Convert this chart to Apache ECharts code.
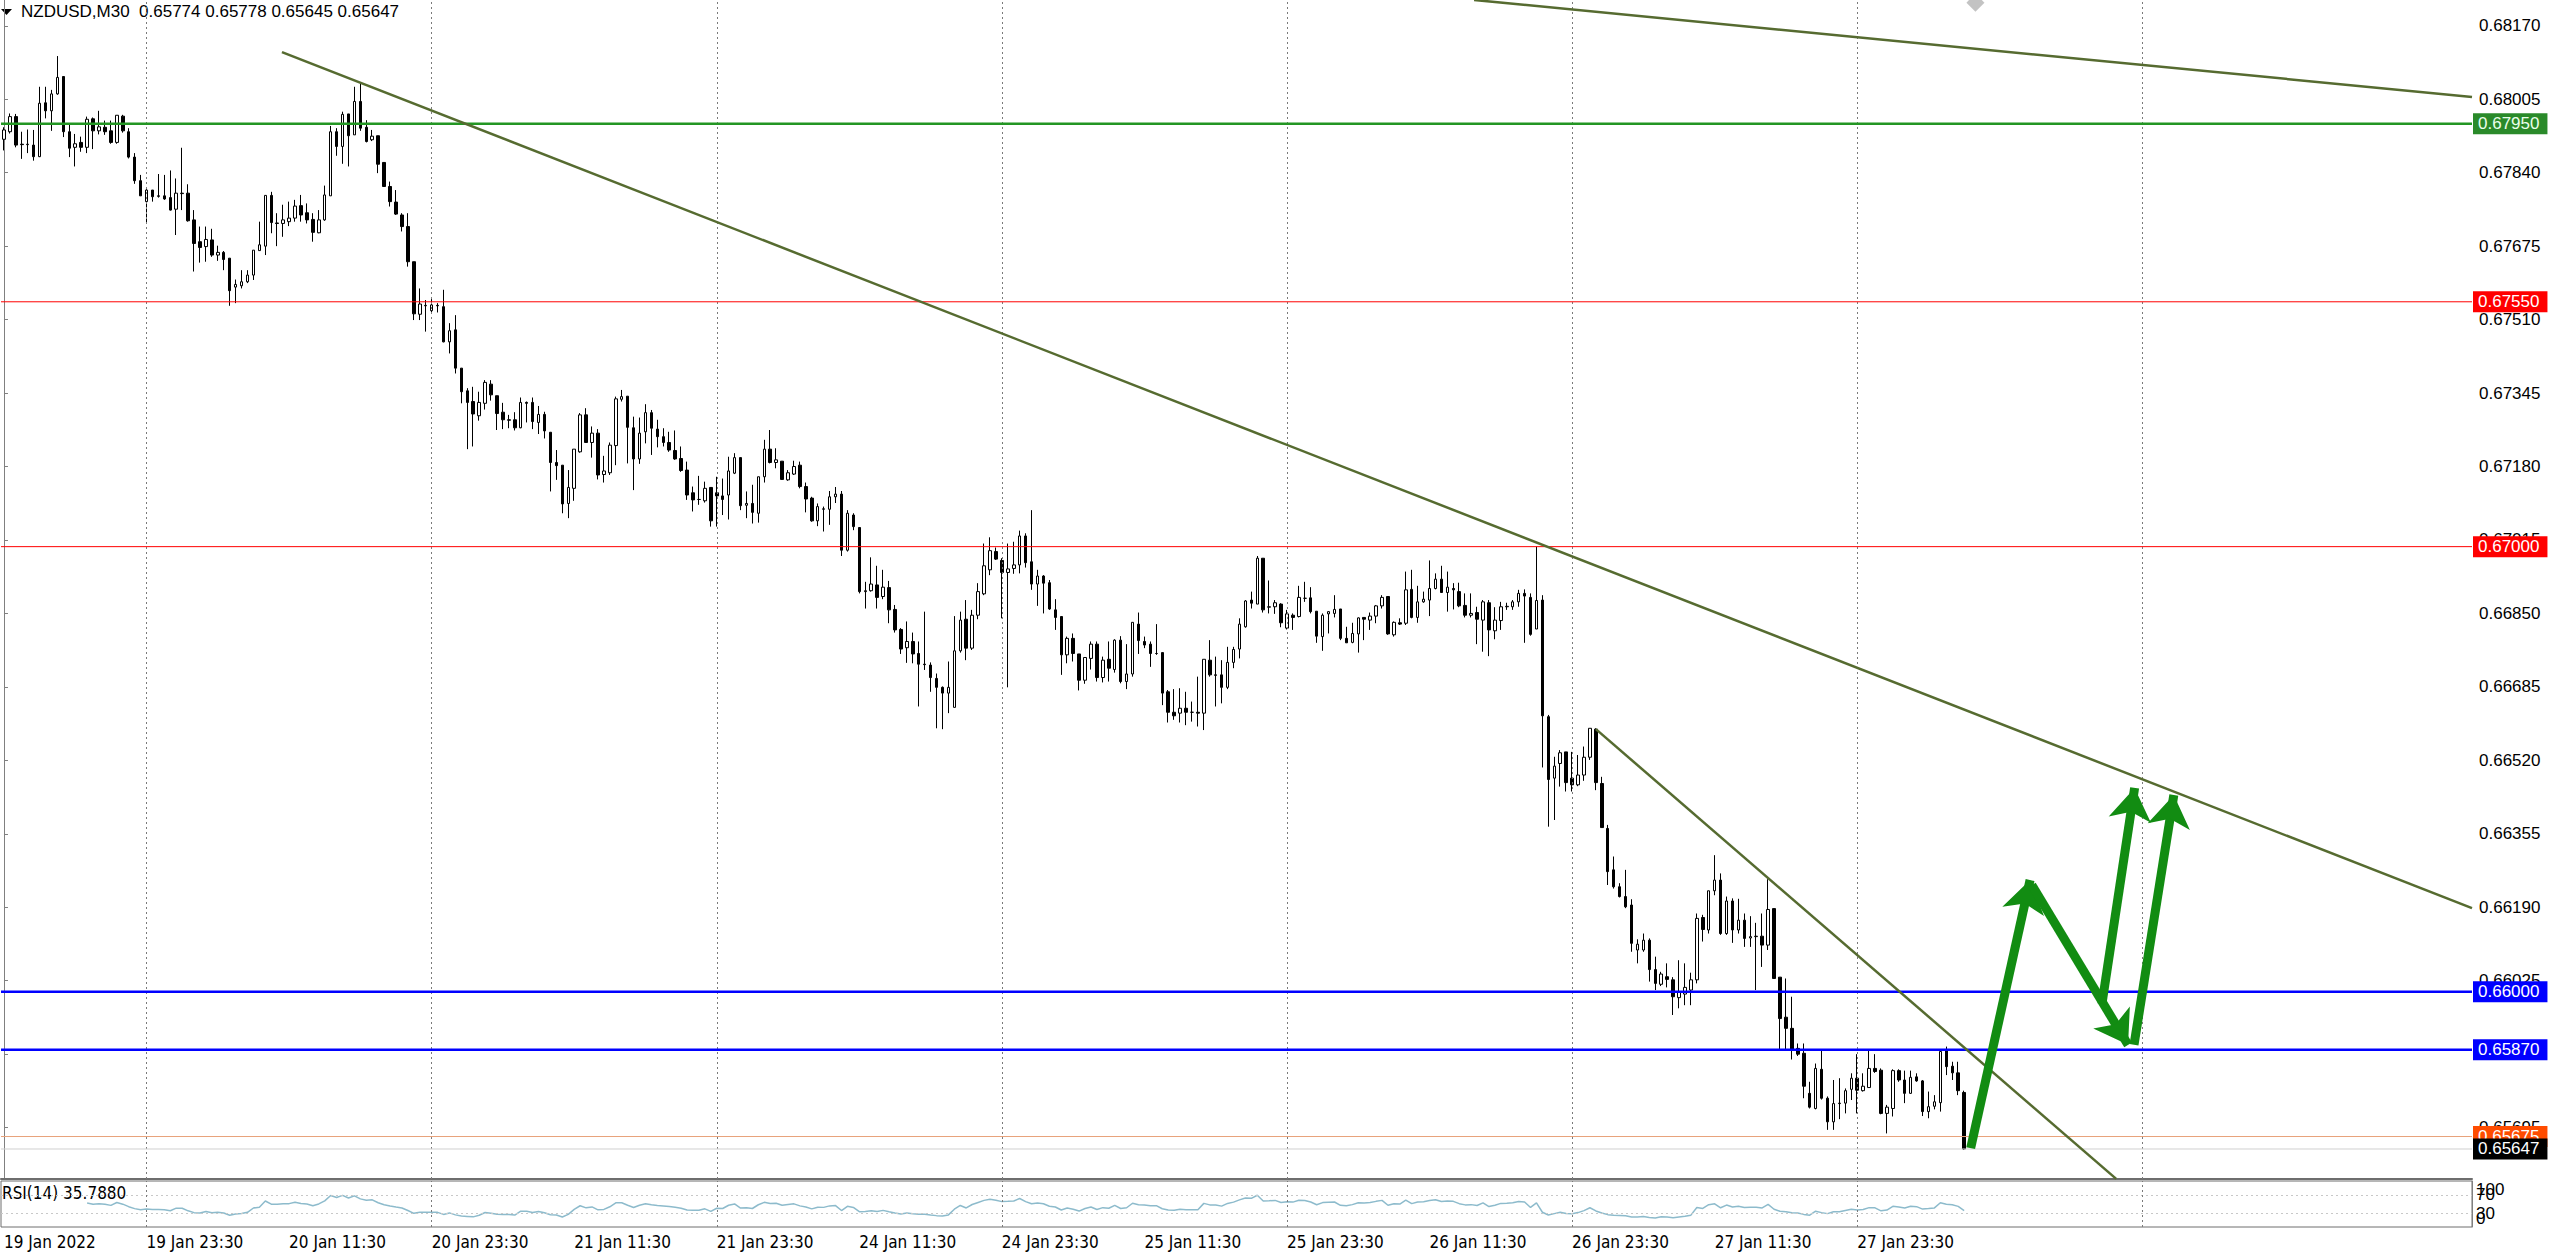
<!DOCTYPE html>
<html>
<head>
<meta charset="utf-8">
<script src="https://cdn.jsdelivr.net/npm/echarts@6/dist/echarts.min.js"></script>
<style>html,body{margin:0;padding:0;background:#fff;overflow:hidden}#chart{width:2560px;height:1252px}</style>
</head>
<body>
<div id="chart"></div>
<script>
// ---------------- DATA ----------------
const symbolName = 'NZDUSD';
const timeframe = 'M30';
const firstBarTime = Date.UTC(2022, 0, 19, 11, 30); // first visible bar
const totalSlots = 416; // visible bar slots incl. empty right margin

const opens = [
0.67915,0.67932,0.67966,0.67904,0.67903,0.67902,0.67876,0.67997,0.67979,0.68017,
0.68056,0.67932,0.67897,0.67908,0.67897,0.67961,0.67934,0.67942,0.67934,0.67908,
0.67967,0.67932,0.67875,0.67822,0.67775,0.67801,0.67788,0.67788,0.67784,0.67758,
0.67794,0.67794,0.67734,0.67685,0.67674,0.67689,0.67655,0.67661,0.67648,0.67583,
0.67586,0.67595,0.67610,0.67665,0.67675,0.67789,0.67727,0.67726,0.67730,0.67738,
0.67766,0.67750,0.67735,0.67705,0.67734,0.67788,0.67932,0.67899,0.67972,0.67925,
0.68000,0.67942,0.67914,0.67923,0.67863,0.67809,0.67774,0.67745,0.67719,0.67640,
0.67522,0.67541,0.67530,0.67542,0.67539,0.67460,0.67487,0.67401,0.67350,0.67326,
0.67294,0.67322,0.67365,0.67339,0.67302,0.67285,0.67285,0.67267,0.67324,0.67324,
0.67279,0.67297,0.67257,0.67189,0.67183,0.67097,0.67131,0.67213,0.67296,0.67234,
0.67255,0.67162,0.67166,0.67227,0.67331,0.67338,0.67267,0.67197,0.67258,0.67301,
0.67264,0.67247,0.67234,0.67216,0.67198,0.67172,0.67121,0.67106,0.67103,0.67133,
0.67121,0.67114,0.67116,0.67165,0.67200,0.67093,0.67097,0.67075,0.67157,0.67219,
0.67189,0.67192,0.67150,0.67163,0.67183,0.67135,0.67109,0.67058,0.67084,0.67084,
0.67112,0.67118,0.66992,0.67071,0.67043,0.66899,0.66901,0.66914,0.66888,0.66908,
0.66859,0.66814,0.66773,0.66787,0.66760,0.66736,0.66734,0.66704,0.66684,0.66671,
0.66639,0.66766,0.66837,0.66772,0.66846,0.66894,0.66948,0.66989,0.66969,0.66942,
0.66951,0.66959,0.67024,0.66966,0.66916,0.66934,0.66919,0.66858,0.66843,0.66757,
0.66794,0.66759,0.66700,0.66749,0.66781,0.66706,0.66747,0.66724,0.66790,0.66697,
0.66714,0.66826,0.66787,0.66781,0.66760,0.66762,0.66674,0.66628,0.66626,0.66637,
0.66628,0.66628,0.66626,0.66745,0.66712,0.66712,0.66684,0.66740,0.66770,0.66820,
0.66880,0.66871,0.66974,0.66864,0.66865,0.66871,0.66817,0.66846,0.66843,0.66884,
0.66885,0.66855,0.66798,0.66849,0.66850,0.66860,0.66794,0.66785,0.66804,0.66841,
0.66835,0.66844,0.66867,0.66888,0.66802,0.66829,0.66828,0.66904,0.66841,0.66876,
0.66880,0.66906,0.66927,0.66897,0.66906,0.66899,0.66868,0.66846,0.66852,0.66835,
0.66874,0.66811,0.66834,0.66865,0.66865,0.66876,0.66895,0.66886,0.66815,0.66880,
0.66618,0.66480,0.66513,0.66539,0.66480,0.66465,0.66487,0.66527,0.66590,0.66468,
0.66367,0.66274,0.66236,0.66214,0.66195,0.66094,0.66094,0.66116,0.66050,0.66017,
0.66034,0.66027,0.65987,0.65995,0.66004,0.66027,0.66167,0.66139,0.66227,0.66251,
0.66131,0.66204,0.66139,0.66161,0.66121,0.66124,0.66125,0.66105,0.66187,0.66033,
0.65943,0.65918,0.65873,0.65862,0.65772,0.65738,0.65826,0.65761,0.65708,0.65749,
0.65750,0.65781,0.65806,0.65778,0.65785,0.65828,0.65824,0.65727,0.65738,0.65823,
0.65802,0.65772,0.65809,0.65800,0.65731,0.65743,0.65751,0.65868,0.65833,0.65818,
0.65774];
const highs = [
0.67942,0.67973,0.67972,0.67932,0.67937,0.67936,0.68033,0.68033,0.68026,0.68102,
0.68056,0.67951,0.67927,0.67921,0.67966,0.67964,0.67979,0.67957,0.67957,0.67969,
0.67970,0.67940,0.67884,0.67835,0.67803,0.67801,0.67837,0.67835,0.67845,0.67827,
0.67896,0.67814,0.67756,0.67719,0.67719,0.67714,0.67676,0.67664,0.67648,0.67600,
0.67621,0.67621,0.67666,0.67730,0.67789,0.67797,0.67749,0.67768,0.67775,0.67779,
0.67790,0.67771,0.67749,0.67756,0.67811,0.67945,0.67940,0.67977,0.67972,0.68033,
0.68041,0.67958,0.67936,0.67923,0.67863,0.67820,0.67801,0.67749,0.67749,0.67640,
0.67580,0.67554,0.67556,0.67547,0.67577,0.67502,0.67520,0.67401,0.67356,0.67359,
0.67348,0.67374,0.67374,0.67339,0.67323,0.67296,0.67302,0.67335,0.67326,0.67335,
0.67316,0.67303,0.67257,0.67217,0.67183,0.67172,0.67219,0.67300,0.67311,0.67270,
0.67264,0.67204,0.67234,0.67337,0.67352,0.67338,0.67292,0.67290,0.67320,0.67307,
0.67285,0.67266,0.67258,0.67261,0.67225,0.67191,0.67135,0.67159,0.67146,0.67133,
0.67157,0.67153,0.67202,0.67210,0.67200,0.67124,0.67139,0.67157,0.67240,0.67262,
0.67221,0.67192,0.67172,0.67193,0.67191,0.67144,0.67112,0.67097,0.67090,0.67125,
0.67134,0.67125,0.67082,0.67075,0.67043,0.66921,0.66976,0.66957,0.66948,0.66923,
0.66869,0.66817,0.66832,0.66807,0.66787,0.66854,0.66740,0.66715,0.66686,0.66742,
0.66844,0.66854,0.66880,0.66858,0.66918,0.67007,0.67021,0.66998,0.66974,0.67007,
0.67011,0.67036,0.67030,0.67082,0.66948,0.66936,0.66925,0.66882,0.66843,0.66798,
0.66805,0.66759,0.66751,0.66787,0.66787,0.66753,0.66787,0.66792,0.66799,0.66781,
0.66830,0.66852,0.66798,0.66787,0.66826,0.66762,0.66678,0.66680,0.66682,0.66674,
0.66652,0.66708,0.66747,0.66790,0.66753,0.66745,0.66775,0.66775,0.66839,0.66880,
0.66899,0.66979,0.66974,0.66924,0.66880,0.66873,0.66858,0.66850,0.66912,0.66921,
0.66909,0.66855,0.66850,0.66855,0.66891,0.66860,0.66820,0.66829,0.66841,0.66841,
0.66852,0.66869,0.66891,0.66889,0.66832,0.66839,0.66944,0.66948,0.66912,0.66899,
0.66969,0.66940,0.66957,0.66944,0.66918,0.66919,0.66895,0.66895,0.66865,0.66880,
0.66880,0.66864,0.66876,0.66874,0.66880,0.66903,0.66904,0.66895,0.67000,0.66891,
0.66622,0.66528,0.66543,0.66539,0.66539,0.66532,0.66551,0.66592,0.66592,0.66483,
0.66375,0.66304,0.66244,0.66274,0.66208,0.66118,0.66131,0.66120,0.66079,0.66045,
0.66064,0.66033,0.66071,0.66064,0.66043,0.66176,0.66173,0.66227,0.66307,0.66266,
0.66214,0.66210,0.66209,0.66176,0.66170,0.66155,0.66176,0.66253,0.66187,0.66033,
0.66030,0.65989,0.65884,0.65884,0.65798,0.65839,0.65869,0.65765,0.65802,0.65806,
0.65783,0.65817,0.65860,0.65817,0.65869,0.65860,0.65828,0.65746,0.65826,0.65826,
0.65823,0.65823,0.65817,0.65802,0.65776,0.65768,0.65868,0.65877,0.65843,0.65843,
0.65778];
const lows = [
0.67890,0.67928,0.67897,0.67871,0.67884,0.67867,0.67875,0.67962,0.67934,0.68015,
0.67920,0.67875,0.67854,0.67887,0.67884,0.67893,0.67926,0.67925,0.67905,0.67905,
0.67930,0.67872,0.67815,0.67788,0.67726,0.67775,0.67784,0.67779,0.67755,0.67700,
0.67756,0.67730,0.67618,0.67638,0.67640,0.67651,0.67642,0.67621,0.67541,0.67547,
0.67580,0.67592,0.67599,0.67665,0.67655,0.67704,0.67675,0.67696,0.67720,0.67730,
0.67730,0.67726,0.67685,0.67704,0.67732,0.67788,0.67878,0.67860,0.67854,0.67925,
0.67934,0.67908,0.67911,0.67839,0.67809,0.67764,0.67745,0.67708,0.67629,0.67509,
0.67509,0.67483,0.67524,0.67526,0.67459,0.67434,0.67389,0.67322,0.67219,0.67225,
0.67283,0.67308,0.67328,0.67262,0.67264,0.67266,0.67261,0.67266,0.67279,0.67264,
0.67253,0.67243,0.67124,0.67150,0.67075,0.67064,0.67103,0.67211,0.67234,0.67200,
0.67151,0.67144,0.67161,0.67183,0.67326,0.67187,0.67127,0.67186,0.67232,0.67206,
0.67223,0.67225,0.67213,0.67195,0.67168,0.67105,0.67079,0.67094,0.67099,0.67045,
0.67045,0.67071,0.67061,0.67163,0.67082,0.67064,0.67052,0.67054,0.67144,0.67187,
0.67176,0.67150,0.67148,0.67161,0.67131,0.67077,0.67056,0.67046,0.67034,0.67049,
0.67098,0.66979,0.66989,0.67037,0.66895,0.66861,0.66899,0.66861,0.66882,0.66828,
0.66807,0.66759,0.66739,0.66738,0.66641,0.66723,0.66674,0.66592,0.66590,0.66626,
0.66639,0.66762,0.66745,0.66768,0.66837,0.66891,0.66936,0.66970,0.66839,0.66684,
0.66939,0.66940,0.66953,0.66903,0.66867,0.66850,0.66858,0.66813,0.66712,0.66738,
0.66742,0.66677,0.66692,0.66724,0.66697,0.66695,0.66697,0.66717,0.66693,0.66680,
0.66708,0.66759,0.66772,0.66730,0.66757,0.66644,0.66605,0.66611,0.66605,0.66599,
0.66607,0.66596,0.66588,0.66708,0.66641,0.66648,0.66680,0.66727,0.66749,0.66818,
0.66861,0.66871,0.66852,0.66850,0.66849,0.66819,0.66814,0.66813,0.66841,0.66876,
0.66850,0.66784,0.66766,0.66805,0.66841,0.66790,0.66784,0.66783,0.66762,0.66790,
0.66813,0.66828,0.66861,0.66802,0.66798,0.66824,0.66824,0.66839,0.66829,0.66874,
0.66844,0.66904,0.66897,0.66854,0.66859,0.66864,0.66841,0.66841,0.66781,0.66764,
0.66754,0.66792,0.66813,0.66858,0.66858,0.66865,0.66784,0.66800,0.66815,0.66504,
0.66371,0.66386,0.66461,0.66450,0.66450,0.66462,0.66474,0.66521,0.66453,0.66369,
0.66240,0.66232,0.66212,0.66188,0.66090,0.66064,0.66090,0.66023,0.66004,0.66013,
0.66010,0.65948,0.65963,0.65970,0.65970,0.66019,0.66113,0.66131,0.66217,0.66128,
0.66128,0.66110,0.66131,0.66101,0.66101,0.66004,0.66056,0.66094,0.66030,0.65869,
0.65869,0.65848,0.65856,0.65761,0.65738,0.65736,0.65758,0.65690,0.65690,0.65714,
0.65727,0.65757,0.65727,0.65776,0.65785,0.65818,0.65725,0.65682,0.65720,0.65798,
0.65750,0.65771,0.65798,0.65721,0.65716,0.65736,0.65731,0.65813,0.65802,0.65768,
0.65645];
const closes = [
0.67936,0.67966,0.67902,0.67903,0.67904,0.67876,0.67996,0.67979,0.68017,0.68054,
0.67932,0.67895,0.67905,0.67897,0.67960,0.67934,0.67943,0.67932,0.67908,0.67969,
0.67934,0.67875,0.67822,0.67788,0.67801,0.67786,0.67787,0.67781,0.67756,0.67794,
0.67793,0.67732,0.67681,0.67672,0.67690,0.67655,0.67661,0.67645,0.67575,0.67589,
0.67595,0.67610,0.67666,0.67678,0.67789,0.67728,0.67726,0.67734,0.67738,0.67765,
0.67745,0.67734,0.67706,0.67734,0.67790,0.67932,0.67899,0.67971,0.67923,0.68000,
0.67940,0.67910,0.67922,0.67859,0.67809,0.67775,0.67747,0.67719,0.67640,0.67523,
0.67545,0.67542,0.67543,0.67541,0.67460,0.67485,0.67401,0.67348,0.67324,0.67298,
0.67324,0.67369,0.67341,0.67299,0.67285,0.67284,0.67267,0.67324,0.67322,0.67281,
0.67297,0.67260,0.67189,0.67182,0.67096,0.67133,0.67219,0.67296,0.67234,0.67255,
0.67161,0.67170,0.67228,0.67332,0.67337,0.67268,0.67197,0.67255,0.67301,0.67266,
0.67247,0.67234,0.67217,0.67197,0.67171,0.67116,0.67105,0.67106,0.67131,0.67058,
0.67114,0.67106,0.67170,0.67200,0.67092,0.67097,0.67077,0.67157,0.67219,0.67189,
0.67195,0.67151,0.67166,0.67180,0.67135,0.67107,0.67058,0.67090,0.67085,0.67112,
0.67118,0.66992,0.67075,0.67045,0.66899,0.66901,0.66916,0.66886,0.66909,0.66858,
0.66813,0.66770,0.66787,0.66759,0.66736,0.66735,0.66706,0.66684,0.66671,0.66684,
0.66766,0.66835,0.66772,0.66846,0.66899,0.66957,0.66991,0.66972,0.66942,0.66950,
0.66959,0.67024,0.66964,0.66916,0.66934,0.66918,0.66860,0.66841,0.66757,0.66794,
0.66760,0.66700,0.66751,0.66781,0.66706,0.66745,0.66727,0.66790,0.66697,0.66714,
0.66830,0.66789,0.66779,0.66760,0.66760,0.66671,0.66628,0.66620,0.66637,0.66628,
0.66628,0.66626,0.66747,0.66712,0.66711,0.66684,0.66740,0.66769,0.66826,0.66878,
0.66873,0.66974,0.66858,0.66865,0.66874,0.66829,0.66849,0.66841,0.66886,0.66884,
0.66854,0.66799,0.66846,0.66854,0.66859,0.66794,0.66784,0.66805,0.66840,0.66837,
0.66844,0.66867,0.66886,0.66804,0.66830,0.66826,0.66903,0.66841,0.66876,0.66882,
0.66906,0.66927,0.66897,0.66909,0.66903,0.66867,0.66846,0.66850,0.66837,0.66876,
0.66813,0.66835,0.66865,0.66866,0.66876,0.66895,0.66889,0.66803,0.66879,0.66620,
0.66477,0.66507,0.66537,0.66470,0.66465,0.66487,0.66527,0.66592,0.66470,0.66369,
0.66270,0.66236,0.66214,0.66191,0.66109,0.66107,0.66116,0.66050,0.66019,0.66040,
0.66028,0.65989,0.66000,0.66010,0.66027,0.66165,0.66140,0.66227,0.66251,0.66131,
0.66204,0.66139,0.66161,0.66120,0.66124,0.66125,0.66105,0.66185,0.66030,0.65940,
0.65918,0.65871,0.65860,0.65788,0.65741,0.65828,0.65761,0.65708,0.65749,0.65750,
0.65778,0.65806,0.65779,0.65788,0.65828,0.65821,0.65727,0.65741,0.65823,0.65802,
0.65772,0.65808,0.65800,0.65731,0.65742,0.65753,0.65866,0.65832,0.65818,0.65778,
0.65647];

// price-axis tick labels
const yTicks = [0.65695,0.65860,0.66025,0.66190,0.66355,0.66520,0.66685,0.66850,0.67015,0.67180,0.67345,0.67510,0.67675,0.67840,0.68005,0.68170];
// time-axis labels: [bar time, shown text]
const xTickLabels = [
  ['19 Jan 11:30','19 Jan 2022'],['19 Jan 23:30','19 Jan 23:30'],['20 Jan 11:30','20 Jan 11:30'],
  ['20 Jan 23:30','20 Jan 23:30'],['21 Jan 11:30','21 Jan 11:30'],['21 Jan 23:30','21 Jan 23:30'],
  ['24 Jan 11:30','24 Jan 11:30'],['24 Jan 23:30','24 Jan 23:30'],['25 Jan 11:30','25 Jan 11:30'],
  ['25 Jan 23:30','25 Jan 23:30'],['26 Jan 11:30','26 Jan 11:30'],['26 Jan 23:30','26 Jan 23:30'],
  ['27 Jan 11:30','27 Jan 11:30'],['27 Jan 23:30','27 Jan 23:30']
];
// vertical day separators
const gridTimes = ['19 Jan 23:30','20 Jan 23:30','21 Jan 23:30','24 Jan 23:30','25 Jan 23:30','26 Jan 23:30','27 Jan 23:30','28 Jan 23:30'];
// horizontal levels
const levelGreen = [0.67950];
const levelRed = [0.67550, 0.67000];
const levelBlue = [0.66000, 0.65870];
const levelBid = [0.65675];
const lastPrice = [0.65647];
// trend lines: [barIndex1, price1, barIndex2, price2]
const trendLines = [
  [46.8, 0.68111, 415.5, 0.66188],
  [247.5, 0.68228, 415.5, 0.68010],
  [268.0, 0.66590, 355.6, 0.65580]
];
// drawn arrows: [barIndex1, price1, barIndex2, price2]
const arrows = [
  [331.1, 0.65649, 341.1, 0.66251],
  [341.4, 0.66240, 357.6, 0.65881],
  [353.2, 0.65973, 358.7, 0.66458],
  [358.6, 0.65881, 365.3, 0.66442]
];
const topMarker = [[331.9, 0.68222]];
const rsiLabel = 'RSI(14) 35.7880';

// ---------------- BUILD ----------------
const MONTHS = ['Jan','Feb','Mar','Apr','May','Jun','Jul','Aug','Sep','Oct','Nov','Dec'];
function fmtTime(t){
  const d = new Date(t);
  return d.getUTCDate() + ' ' + MONTHS[d.getUTCMonth()] + ' ' +
    String(d.getUTCHours()).padStart(2,'0') + ':' + String(d.getUTCMinutes()).padStart(2,'0');
}
const categories = [];
for (let t = firstBarTime; categories.length < totalSlots; t += 30*60*1000) {
  const wd = new Date(t).getUTCDay();
  if (wd === 0 || wd === 6) continue;
  categories.push(fmtTime(t));
}
const labelMap = new Map(xTickLabels);
const candles = opens.map((o, i) => [o, closes[i], lows[i], highs[i]]);

function wilderRSI(c, n){
  const out = new Array(c.length).fill(null);
  let g = 0, l = 0;
  for (let i = 1; i <= n; i++) { const d = c[i]-c[i-1]; if (d > 0) g += d; else l -= d; }
  g /= n; l /= n;
  out[n] = l === 0 ? 100 : 100 - 100/(1+g/l);
  for (let i = n+1; i < c.length; i++) {
    const d = c[i]-c[i-1];
    g = (g*(n-1) + Math.max(d,0))/n;
    l = (l*(n-1) + Math.max(-d,0))/n;
    out[i] = l === 0 ? 100 : 100 - 100/(1+g/l);
  }
  return out;
}
const rsiValues = wilderRSI(closes, 14);

const FONT = '"Liberation Sans", Arial, sans-serif';
const NARROW = '"Liberation Sans Narrow", "DejaVu Sans Condensed", "Liberation Sans", sans-serif';
const Y_MIN = 0.655796, Y_MAX = 0.682279;
const X_MIN = -0.5, X_MAX = totalSlots - 0.5;

function levelSeries(v, lineColor, width, bg, fg, z){
  return {
    type: 'line', xAxisIndex: 2, yAxisIndex: 0, z: z, silent: true, symbol: 'none', clip: false,
    data: [[X_MIN, v], [X_MAX, v]],
    lineStyle: {color: lineColor, width: width},
    endLabel: {show: true, distance: 1, formatter: () => v.toFixed(5),
      backgroundColor: bg, color: fg, fontFamily: FONT, fontSize: 17, padding: [2, 8, 1, 5], lineHeight: 18}
  };
}
function gridMarkLine(){
  return {silent: true, symbol: ['none', 'none'], animation: false, label: {show: false},
    lineStyle: {color: '#7a7a7a', width: 1, type: [2, 3]},
    data: gridTimes.map(t => ({xAxis: t}))};
}

const chart = echarts.init(document.getElementById('chart'), null, {renderer: 'svg', width: 2560, height: 1252});
chart.setOption({
  animation: false,
  backgroundColor: '#ffffff',
  grid: [
    {left: 1, top: 0, width: 2471, height: 1179, show: false},
    {left: 1, top: 1181, width: 2471, height: 46, show: true, borderColor: '#6e6e6e', borderWidth: 1}
  ],
  xAxis: [
    {type: 'category', gridIndex: 0, data: categories, boundaryGap: true,
      axisLine: {show: true, lineStyle: {color: '#6e6e6e', width: 2}}, axisTick: {show: false},
      axisLabel: {show: false}, splitLine: {show: false}},
    {type: 'category', gridIndex: 1, data: categories, boundaryGap: true,
      axisLine: {show: false}, axisTick: {show: false},
      axisLabel: {interval: (i, v) => labelMap.has(v), formatter: v => labelMap.get(v) || '',
        align: 'left', fontFamily: NARROW, fontSize: 17, color: '#000', margin: 6},
      splitLine: {show: false}},
    {type: 'value', gridIndex: 0, min: X_MIN, max: X_MAX, show: false}
  ],
  yAxis: [
    {type: 'value', gridIndex: 0, position: 'right', min: Y_MIN, max: Y_MAX,
      axisLine: {show: true, lineStyle: {color: '#808080', width: 1}},
      axisTick: {show: true, length: 4, customValues: yTicks, lineStyle: {color: '#808080'}},
      axisLabel: {customValues: yTicks, formatter: v => v.toFixed(5), fontFamily: FONT, fontSize: 17, color: '#000', margin: 7},
      splitLine: {show: false}},
    {type: 'value', gridIndex: 1, position: 'right', min: 0, max: 100,
      axisLine: {show: true, lineStyle: {color: '#808080'}}, axisTick: {show: false},
      axisLabel: {customValues: [30, 70], formatter: v => String(v), fontFamily: FONT, fontSize: 17, color: '#000', margin: 4},
      splitLine: {show: false}},
    {type: 'value', gridIndex: 1, position: 'right', min: 0, max: 100,
      axisLine: {show: false}, axisTick: {show: false},
      axisLabel: {customValues: [100], formatter: v => String(v), verticalAlign: 'top', fontFamily: FONT, fontSize: 17, color: '#000', margin: 4},
      splitLine: {show: false}},
    {type: 'value', gridIndex: 1, position: 'right', min: 0, max: 100,
      axisLine: {show: false}, axisTick: {show: false},
      axisLabel: {customValues: [0], formatter: v => String(v), verticalAlign: 'bottom', fontFamily: FONT, fontSize: 17, color: '#000', margin: 4},
      splitLine: {show: false}}
  ],
  series: [
    {type: 'candlestick', xAxisIndex: 0, yAxisIndex: 0, data: candles, barWidth: 3, clip: true, z: 3,
      itemStyle: {color: '#ffffff', color0: '#000000', borderColor: '#000000', borderColor0: '#000000', borderWidth: 1},
      markLine: gridMarkLine()},
    ...levelBid.map(v => levelSeries(v, '#e8a27a', 1, '#ff4c00', '#ffffff', 4)),
    ...lastPrice.map(v => levelSeries(v, '#d0d0d0', 1, '#000000', '#ffffff', 5)),
    ...levelRed.map(v => levelSeries(v, '#ff0000', 1, '#ff0000', '#ffffff', 5)),
    ...levelBlue.map(v => levelSeries(v, '#0000ff', 2.5, '#0000ff', '#ffffff', 5)),
    ...levelGreen.map(v => levelSeries(v, '#239623', 2.5, '#2a8a2a', '#eaffea', 5)),
    ...trendLines.map(l => ({type: 'line', xAxisIndex: 2, yAxisIndex: 0, data: [[l[0], l[1]], [l[2], l[3]]],
      symbol: 'none', clip: true, z: 6, silent: true, lineStyle: {color: '#566b30', width: 2.5}})),
    {type: 'lines', coordinateSystem: 'cartesian2d', xAxisIndex: 2, yAxisIndex: 0, z: 8, silent: true,
      data: arrows.map(a => ({coords: [[a[0], a[1]], [a[2], a[3]]]})),
      symbol: ['none', 'arrow'], symbolSize: 32,
      lineStyle: {color: '#128c12', width: 9, opacity: 1, curveness: 0}},
    {type: 'scatter', xAxisIndex: 2, yAxisIndex: 0, data: topMarker, symbol: 'diamond', symbolSize: 18, silent: true,
      itemStyle: {color: '#b4b4b4'}, clip: false, z: 7},
    {type: 'line', xAxisIndex: 1, yAxisIndex: 1, data: rsiValues, symbol: 'none', silent: true,
      lineStyle: {color: '#8dbbcc', width: 1.5},
      markLine: {silent: true, symbol: ['none', 'none'], animation: false, label: {show: false},
        data: [
          {yAxis: 70, lineStyle: {color: '#c8c8c8', type: [2, 3], width: 1}},
          {yAxis: 30, lineStyle: {color: '#c8c8c8', type: [2, 3], width: 1}},
          ...gridTimes.map(t => ({xAxis: t, lineStyle: {color: '#7a7a7a', width: 1, type: [2, 3]}}))
        ]}}
  ],
  graphic: [
    {type: 'polygon', shape: {points: [[1, 9], [12, 9], [6.5, 15]]}, style: {fill: '#000'}},
    {type: 'text', left: 21, top: 3, style: {
      text: symbolName + ',' + timeframe + '  ' + [opens, highs, lows, closes].map(a => a[a.length-1].toFixed(5)).join(' '),
      font: '17px "Liberation Sans", Arial, sans-serif', fill: '#000'}},
    {type: 'text', left: 2, top: 1184, style: {text: rsiLabel, font: '17px ' + NARROW, fill: '#000'}}
  ]
});
</script>
</body>
</html>
